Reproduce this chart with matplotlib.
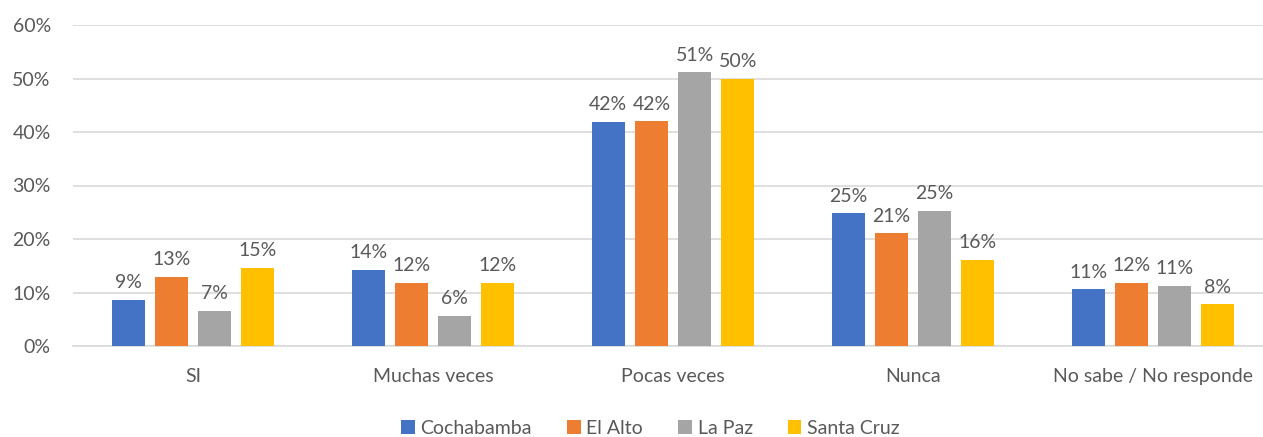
import matplotlib
matplotlib.use("Agg")
import matplotlib.pyplot as plt
import numpy as np

categories = ["SI", "Muchas veces", "Pocas veces", "Nunca", "No sabe / No responde"]
series = ["Cochabamba", "El Alto", "La Paz", "Santa Cruz"]
cochabamba = [8.6, 14.2, 41.9, 24.8, 10.6]
el_alto = [12.9, 11.8, 42.0, 21.1, 11.8]
la_paz = [6.6, 5.6, 51.2, 25.3, 11.3]
santa_cruz = [14.6, 11.8, 50.0, 16.1, 7.8]
yticks = [0, 10, 20, 30, 40, 50, 60]

values = [cochabamba, el_alto, la_paz, santa_cruz]
colors = ["#4472C4", "#ED7D31", "#A5A5A5", "#FFC000"]
text_color = "#595959"

plt.rcParams['font.family'] = ['Lato', 'DejaVu Sans']

fig = plt.figure(figsize=(12.63, 4.37), dpi=100)
ax = fig.add_axes([73/1263, 1 - 346/437, 1200/1263, (346 - 25)/437])

x = np.arange(len(categories))
pitch = 0.18
width = 0.1375
for i, (name, vals, col) in enumerate(zip(series, values, colors)):
    pos = x + (i - 1.5) * pitch
    bars = ax.bar(pos, vals, width=width, color=col, label=name, zorder=3)
    for b, v in zip(bars, vals):
        ax.text(b.get_x() + b.get_width() / 2, v + 1.6, f"{v:.0f}%",
                ha="center", va="bottom", fontsize=14, color=text_color)

ax.set_xlim(-0.5, len(categories) - 0.5)
ax.set_ylim(0, 60)
ax.set_yticks(yticks)
ax.set_yticklabels([f"{t}%" for t in yticks])
ax.set_xticks(x)
ax.set_xticklabels(categories)
ax.yaxis.grid(True, color="#D9D9D9", linewidth=1.2, zorder=0)
ax.set_axisbelow(True)
for s in ["top", "right", "left"]:
    ax.spines[s].set_visible(False)
ax.spines["bottom"].set_color("#D9D9D9")
ax.spines["bottom"].set_linewidth(1.2)
ax.tick_params(axis="both", length=0, labelsize=14, colors=text_color)
ax.tick_params(axis="y", pad=16)
ax.tick_params(axis="x", pad=16)

leg = fig.legend(loc="center", bbox_to_anchor=(0.515, 1 - 428/437), ncol=4,
                 frameon=False, fontsize=14, handlelength=0.7, handleheight=0.7,
                 handletextpad=0.3, columnspacing=1.8)
for t in leg.get_texts():
    t.set_color(text_color)

fig.savefig("out.png", dpi=100)
